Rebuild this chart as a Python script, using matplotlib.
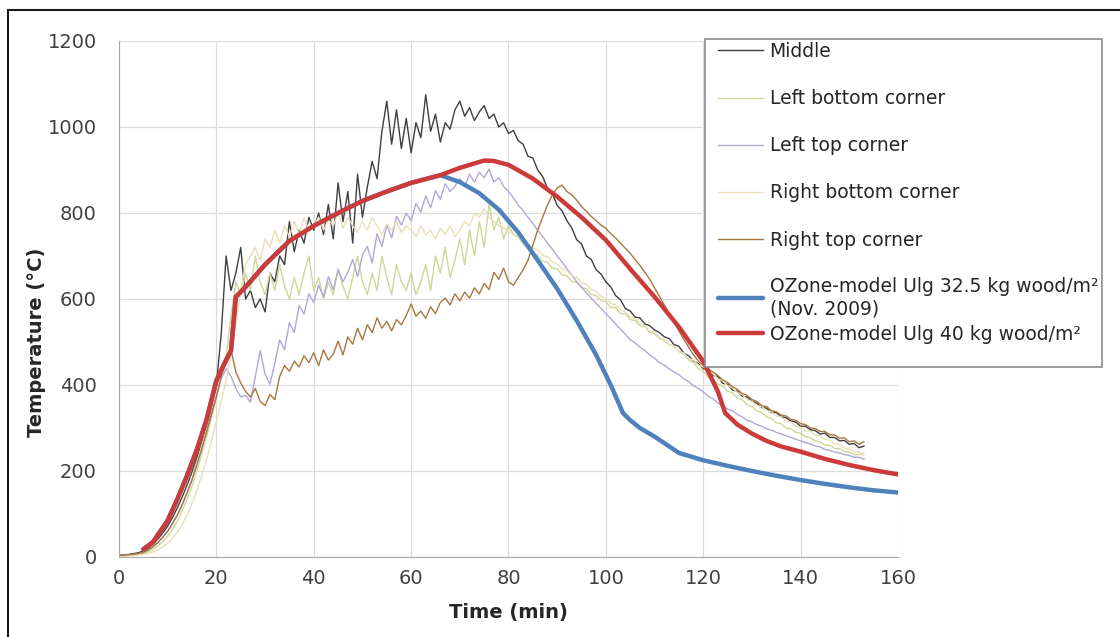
import matplotlib
matplotlib.use('Agg')
import matplotlib.pyplot as plt
from matplotlib.patches import Rectangle

# measured thermocouples, one reading per minute (0..153 min)
minutes = list(range(154))

middle = [
    5, 5, 6, 8, 10, 14, 20, 30, 42, 56,
    72, 92, 115, 140, 168, 198, 232, 270, 310, 352,
    400, 520, 700, 620, 660, 720, 600, 620, 580, 600,
    570, 660, 640, 700, 680, 780, 710, 760, 730, 790,
    760, 800, 750, 820, 740, 870, 780, 850, 730, 890,
    790, 860, 920, 880, 990, 1060, 960, 1040, 950, 1020,
    940, 1010, 975, 1075, 990, 1030, 965, 1010, 995, 1040,
    1060, 1025, 1045, 1015, 1035, 1050, 1020, 1030, 1000, 1010,
    985, 992, 968, 960, 932, 928, 900, 885, 858, 845,
    818, 805, 782, 765, 738, 728, 700, 692, 668, 658,
    640, 628, 608, 598, 578, 572, 558, 556, 542, 538,
    528, 522, 512, 508, 494, 490, 474, 468, 456, 450,
    438, 434, 422, 420, 404, 402, 388, 386, 374, 372,
    362, 358, 348, 346, 336, 336, 326, 324, 316, 314,
    304, 304, 296, 294, 286, 288, 278, 278, 270, 271,
    262, 264, 254, 258]

left_bottom = [
    3, 3, 4, 5, 6, 8, 12, 18, 26, 36,
    48, 64, 84, 108, 135, 165, 200, 240, 280, 325,
    370, 420, 470, 560, 640, 610, 660, 620, 700, 640,
    610, 660, 620, 680, 630, 600, 650, 610, 660, 700,
    620, 650, 600, 640, 610, 670, 630, 600, 650, 700,
    640, 610, 660, 620, 700, 650, 610, 680, 640, 620,
    660, 610, 640, 680, 620, 700, 660, 720, 650, 690,
    740, 680, 760, 700, 780, 720, 820, 760, 790, 740,
    770, 750, 744, 728, 722, 706, 702, 688, 686, 672,
    670, 656, 654, 640, 640, 626, 624, 610, 608, 596,
    594, 580, 580, 566, 566, 552, 550, 538, 536, 522,
    520, 508, 504, 494, 490, 478, 472, 458, 452, 438,
    432, 418, 414, 402, 398, 386, 382, 370, 366, 354,
    350, 340, 336, 326, 322, 312, 310, 300, 298, 290,
    288, 280, 278, 270, 268, 260, 260, 252, 252, 245,
    244, 238, 238, 242]

left_top = [
    4, 4, 5, 6, 8, 11, 16, 24, 34, 46,
    60, 78, 98, 122, 150, 180, 215, 252, 292, 332,
    375, 415, 438, 420, 392, 372, 376, 360, 420, 480,
    425, 402, 450, 505, 482, 545, 522, 585, 565, 612,
    592, 632, 605, 652, 622, 668, 640, 662, 692, 652,
    702, 722, 684, 752, 722, 772, 742, 792, 772, 800,
    782, 822, 802, 840, 812, 852, 832, 868, 850, 862,
    880, 862, 890, 872, 895, 882, 902, 872, 882, 862,
    850, 836, 818, 806, 790, 776, 760, 746, 730, 716,
    700, 686, 670, 656, 640, 628, 614, 602, 590, 578,
    566, 554, 542, 530, 518, 505, 498, 488, 480, 470,
    462, 452, 446, 438, 430, 424, 414, 408, 398, 392,
    384, 374, 368, 358, 352, 344, 340, 332, 326, 318,
    314, 308, 304, 298, 295, 290, 286, 282, 278, 274,
    270, 266, 263, 258, 256, 250, 248, 244, 242, 238,
    236, 232, 232, 228]

right_bottom = [
    2, 2, 3, 4, 5, 6, 8, 12, 17, 24,
    32, 44, 58, 76, 98, 124, 155, 190, 228, 270,
    315, 362, 410, 470, 540, 620, 680, 700, 720, 690,
    740, 720, 760, 730, 770, 745, 780, 750, 790, 760,
    770, 790, 760, 785, 770, 800, 765, 790, 770, 755,
    780, 760, 790, 770, 750, 775, 760, 780, 755, 770,
    760, 745, 770, 750, 760, 740, 765, 750, 770, 745,
    760, 780, 770, 800, 790, 810, 790, 780, 770, 765,
    758, 750, 746, 734, 730, 718, 714, 702, 698, 686,
    682, 670, 666, 654, 650, 638, 634, 622, 618, 606,
    602, 590, 586, 574, 570, 558, 554, 542, 538, 526,
    522, 510, 506, 494, 490, 478, 474, 462, 458, 446,
    442, 430, 426, 414, 410, 398, 394, 382, 378, 366,
    362, 352, 350, 340, 338, 328, 326, 316, 314, 304,
    302, 293, 292, 283, 282, 273, 272, 263, 262, 253,
    252, 244, 244, 236]

right_top = [
    4, 4, 5, 6, 8, 11, 16, 24, 34, 46,
    60, 78, 98, 122, 150, 180, 215, 252, 292, 332,
    372, 420, 460, 482, 430, 405, 385, 372, 392, 362,
    352, 378, 366, 420, 445, 432, 455, 442, 468, 452,
    475, 445, 482, 458, 472, 502, 470, 512, 495, 532,
    505, 540, 522, 556, 532, 548, 526, 552, 540, 562,
    588, 560, 572, 555, 582, 566, 592, 602, 586, 612,
    596, 616, 602, 626, 612, 636, 622, 662, 646, 672,
    640, 632, 650, 668, 690, 725, 760, 790, 818, 842,
    858, 865, 850, 842, 830, 815, 804, 792, 782, 772,
    764, 752, 742, 730, 718, 706, 692, 678, 662, 646,
    626, 606, 586, 566, 546, 526, 506, 488, 470, 456,
    446, 438, 430, 422, 412, 406, 396, 390, 380, 376,
    366, 362, 352, 350, 340, 338, 330, 328, 320, 318,
    310, 308, 300, 299, 292, 292, 284, 284, 276, 277,
    268, 270, 262, 268]

# OZone model curves
ozone40_t = [5, 7, 10, 12, 14, 16, 18, 20, 22, 23, 24, 26, 30, 35, 40, 45, 50,
             55, 60, 65, 66, 70, 75, 77, 80, 85, 90, 95, 100, 105, 110, 115,
             120, 123, 124.5, 127, 130, 133, 136, 140, 145, 150, 155, 160]
ozone40 = [18, 35, 85, 135, 190, 250, 320, 410, 458, 480, 605, 628, 680, 735,
           770, 800, 828, 850, 870, 885, 888, 905, 922, 921, 912, 880, 838,
           790, 737, 670, 605, 535, 455, 385, 335, 308, 287, 270, 257, 245,
           228, 214, 202, 192]

ozone325_t = [5, 7, 10, 12, 14, 16, 18, 20, 22, 23, 24, 26, 30, 35, 40, 45, 50,
              55, 60, 65, 66, 70, 74, 78, 82, 86, 90, 94, 98, 101, 103.5, 105,
              107, 110, 115, 120, 125, 130, 135, 140, 145, 150, 155, 160]
ozone325 = [18, 35, 85, 135, 190, 250, 320, 410, 458, 480, 605, 628, 680, 735,
            770, 800, 828, 850, 870, 885, 888, 872, 846, 808, 755, 690, 624,
            550, 470, 400, 335, 318, 300, 280, 242, 225, 212, 200, 189, 179,
            170, 162, 155, 150]

W, H = 1120, 637
fig = plt.figure(figsize=(W / 100, H / 100), dpi=100)
ax = fig.add_axes([119 / W, 1 - 557 / H, (898 - 119) / W, (557 - 41) / H])

l_mid, = ax.plot(minutes, middle, color='#3f3f3f', lw=1.0, label='Middle')
l_lb, = ax.plot(minutes, left_bottom, color='#cdd996', lw=1.0, label='Left bottom corner')
l_lt, = ax.plot(minutes, left_top, color='#b3a6d9', lw=1.0, label='Left top corner')
l_rb, = ax.plot(minutes, right_bottom, color='#e9dfb8', lw=1.0, label='Right bottom corner')
l_rt, = ax.plot(minutes, right_top, color='#a8773f', lw=1.0, label='Right top corner')
l_blue, = ax.plot(ozone325_t, ozone325, color='#4f81bd', lw=3.2,
                  solid_capstyle='round',
                  label='OZone-model Ulg 32.5 kg wood/m²\n(Nov. 2009)')
l_red, = ax.plot(ozone40_t, ozone40, color='#cc3a3a', lw=3.2,
                 solid_capstyle='round', label='OZone-model Ulg 40 kg wood/m²')

ax.set_xlim(0, 160)
ax.set_ylim(0, 1200)
ax.set_xticks(range(0, 161, 20))
ax.set_yticks(range(0, 1201, 200))
ax.grid(True, color='#dcdcdc', lw=0.9)
ax.set_axisbelow(True)
for side in ['top', 'right']:
    ax.spines[side].set_visible(False)
for side in ['left', 'bottom']:
    ax.spines[side].set_color('#a6a6a6')
ax.tick_params(axis='both', length=0, labelsize=14, labelcolor='#404040')
ax.tick_params(axis='x', pad=9)
ax.tick_params(axis='y', pad=16)

ax.set_xlabel('Time (min)', fontsize=14, fontweight='bold', color='#262626')
ax.set_ylabel('Temperature (°C)', fontsize=14, fontweight='bold', color='#262626')
ax.xaxis.set_label_coords(0.5, (557 - 603) / 516)
ax.yaxis.set_label_coords((46 - 119) / 779, (557 - 342) / 516)

# legend box with the two groups of entries
box = Rectangle((705 / W, 1 - 367 / H), (1102 - 705) / W, (367 - 39) / H,
                transform=fig.transFigure, facecolor='white',
                edgecolor='#8c8c8c', lw=1.2, zorder=4, clip_on=False)
ax.add_artist(box)

leg_kw = dict(loc='upper left', bbox_transform=fig.transFigure, frameon=False,
              fontsize=13.5, handlelength=2.4, handletextpad=0.35,
              borderpad=0, borderaxespad=0, labelcolor='#262626')
leg1 = ax.legend(handles=[l_mid, l_lb, l_lt, l_rb, l_rt],
                 bbox_to_anchor=(718 / W, 1 - 42 / H), labelspacing=1.5, **leg_kw)
ax.add_artist(leg1)
leg2 = ax.legend(handles=[l_blue, l_red],
                 bbox_to_anchor=(718 / W, 1 - 277 / H), labelspacing=0.35, **leg_kw)

# outer frame of the figure (top and left edges visible)
fig.add_artist(Rectangle((8 / W, -0.5), 1.5, 0.5 + 1 - 10 / H, transform=fig.transFigure,
                         fill=False, edgecolor='#1a1a1a', lw=1.5))

fig.savefig('out.png', dpi=100)
